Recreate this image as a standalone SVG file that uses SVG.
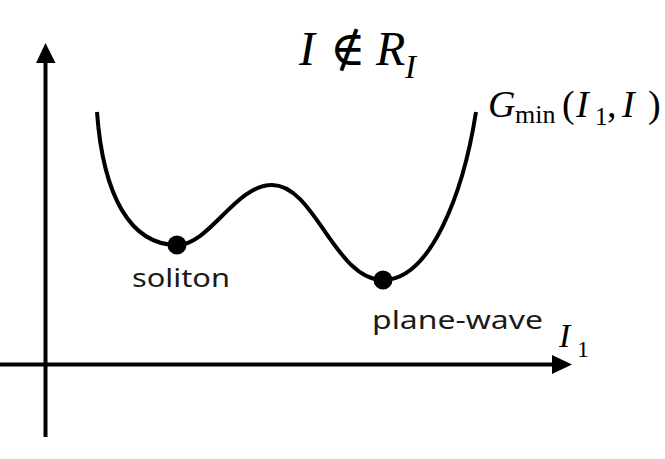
<svg xmlns="http://www.w3.org/2000/svg" width="665" height="459" viewBox="0 0 665 459">
<style>
.m{font-family:"Liberation Serif","DejaVu Serif",serif;fill:#000}
.i{font-style:italic}
.s{font-family:"Noto Sans","Liberation Sans",sans-serif;fill:#1a1a1a;font-size:26px}
.ax{stroke:#000;stroke-width:4;fill:none}
</style>
<rect width="665" height="459" fill="#fff"/>
<g id="connectors">
<line class="ax" x1="45.5" y1="437" x2="45.5" y2="60"/>
<polygon points="45.5,43 36,63 55.5,63" fill="#000"/>
<line class="ax" x1="0" y1="364.5" x2="555" y2="364.5"/>
<polygon points="572,364.5 552,355 552,374" fill="#000"/>
<path id="curve" class="ax" d="M97,112 C103,195 130,245 177,245 C210,245 235,185 272,185 C315,185 335,280 383,280 C430,280 463,195 476,112"/>
</g>
<g id="soliton">
<circle cx="177" cy="245" r="9.5" fill="#000"/>
<text class="s" x="132" y="287" textLength="98" lengthAdjust="spacingAndGlyphs">soliton</text>
</g>
<g id="plane-wave">
<circle cx="383" cy="280" r="9.5" fill="#000"/>
<text class="s" x="372" y="329" textLength="171" lengthAdjust="spacingAndGlyphs">plane-wave</text>
</g>
<g id="title">
<text class="m" font-size="48" y="65"><tspan class="i" x="299">I</tspan><tspan x="330">∉</tspan><tspan class="i" x="376">R</tspan><tspan class="i" x="405" y="78" font-size="33">I</tspan></text>
</g>
<g id="gmin">
<text class="m" font-size="38" y="117"><tspan class="i" x="488">G</tspan><tspan x="515" y="123" font-size="26">min</tspan><tspan x="562" y="117">(</tspan><tspan class="i" x="576">I</tspan><tspan x="595" y="125" font-size="25">1</tspan><tspan x="607" y="117">,</tspan><tspan class="i" x="622">I</tspan><tspan x="648">)</tspan></text>
</g>
<g id="axis-label">
<text class="m" font-size="34" y="347"><tspan class="i" x="559">I</tspan><tspan x="577" y="357" font-size="24">1</tspan></text>
</g>
</svg>
